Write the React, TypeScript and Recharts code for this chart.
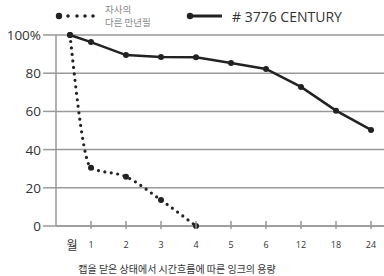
import React from 'react';
import { LineChart, Line, XAxis, YAxis, CartesianGrid, Customized } from 'recharts';

const monthLabels = ['월', '1', '2', '3', '4', '5', '6', '12', '18', '24'];
const centuryValues = [100, 96.3, 89.5, 88.5, 88.3, 85.3, 82.2, 72.8, 60.4, 50.3];
const otherValues: (number | null)[] = [100, 30.5, 25.8, 13.6, 0, null, null, null, null, null];
const yTicks = [0, 20, 40, 60, 80, 100];

const legendOther = ['자사의', '다른 만년필'];
const legendCentury = '# 3776  CENTURY';
const title = '캡을 닫은 상태에서 시간흐름에 따른 잉크의 용량';

const xPos = (i: number) => (i === 0 ? 0.4 : i);
const data = monthLabels.map((m, i) => ({
  x: xPos(i),
  label: m,
  century: centuryValues[i],
  other: otherValues[i],
}));
const xTickValues = monthLabels.map((_, i) => xPos(i));

const FONT = '"Open Sans", "Noto Sans", sans-serif';
const KFONT = '"Noto Sans CJK KR", sans-serif';
const GRID = '#999';
const INK = '#222';

const XTick = (props: any) => {
  const { x, y, payload } = props;
  const idx = xTickValues.indexOf(payload.value);
  const label = monthLabels[idx];
  if (idx === 0) {
    return (
      <text x={x + 2} y={y + 16} textAnchor="middle" fontSize={12} fill="#333" fontFamily={KFONT}>
        {label}
      </text>
    );
  }
  return (
    <g>
      <line x1={226} x2={226} y1={0} y2={0} stroke="none" />
      <line x1={x} x2={x} y1={226 - 5} y2={226 + 3} stroke={GRID} strokeWidth={1.5} />
      <text x={x} y={y + 14} textAnchor="middle" fontSize={9} fill="#333" fontFamily={FONT}>
        {label}
      </text>
    </g>
  );
};

const YTick = (props: any) => {
  const { x, y, payload } = props;
  return (
    <text x={x} y={y + 5} textAnchor="end" fontSize={13.5} fill="#333" fontFamily={FONT}>
      {payload.value === 100 ? '100%' : payload.value}
    </text>
  );
};

const Extras = () => (
  <g>
    <circle cx={59} cy={16} r={3.2} fill={INK} />
    {[68, 77, 85, 93].map((cx) => (
      <circle key={cx} cx={cx} cy={16} r={1.8} fill={INK} />
    ))}
    <text x={105} y={13} fontSize={9.5} fill="#888" fontFamily={KFONT}>{legendOther[0]}</text>
    <text x={105} y={25.5} fontSize={9.5} fill="#888" fontFamily={KFONT}>{legendOther[1]}</text>
    <line x1={190} x2={222} y1={16} y2={16} stroke={INK} strokeWidth={3} />
    <circle cx={190} cy={16} r={3.2} fill={INK} />
    <text x={232} y={22} fontSize={14} fill="#333" fontFamily={FONT}>{legendCentury}</text>
    <text x={177} y={273} textAnchor="middle" fontSize={10} fill="#333" fontFamily={KFONT}>{title}</text>
  </g>
);

export default function App() {
  return (
    <div style={{ position: 'absolute', left: 0, top: 0, background: '#fff' }}>
      <LineChart width={384} height={276} data={data} margin={{ top: 35, right: 0, left: 0, bottom: 20 }}>
        <CartesianGrid vertical={false} stroke={GRID} strokeWidth={1.5} />
        <XAxis
          dataKey="x"
          type="number"
          domain={[0, 9.371]}
          ticks={xTickValues}
          interval={0}
          height={30}
          tick={<XTick />}
          tickLine={false}
          axisLine={{ stroke: GRID, strokeWidth: 1.5 }}
        />
        <YAxis
          type="number"
          domain={[0, 100]}
          ticks={yTicks}
          width={56}
          tickSize={13}
          tickMargin={2}
          tick={<YTick />}
          tickLine={{ stroke: GRID, strokeWidth: 1.5 }}
          axisLine={{ stroke: GRID, strokeWidth: 1.5 }}
        />
        <Line
          dataKey="other"
          type="monotone"
          stroke={INK}
          strokeWidth={3.2}
          strokeDasharray="0 6.5"
          strokeLinecap="round"
          dot={{ r: 3, fill: INK, stroke: 'none' }}
          connectNulls={false}
          isAnimationActive={false}
        />
        <Line
          dataKey="century"
          type="linear"
          stroke={INK}
          strokeWidth={2.5}
          dot={{ r: 3, fill: INK, stroke: 'none' }}
          isAnimationActive={false}
        />
        <Customized component={Extras} />
      </LineChart>
    </div>
  );
}
